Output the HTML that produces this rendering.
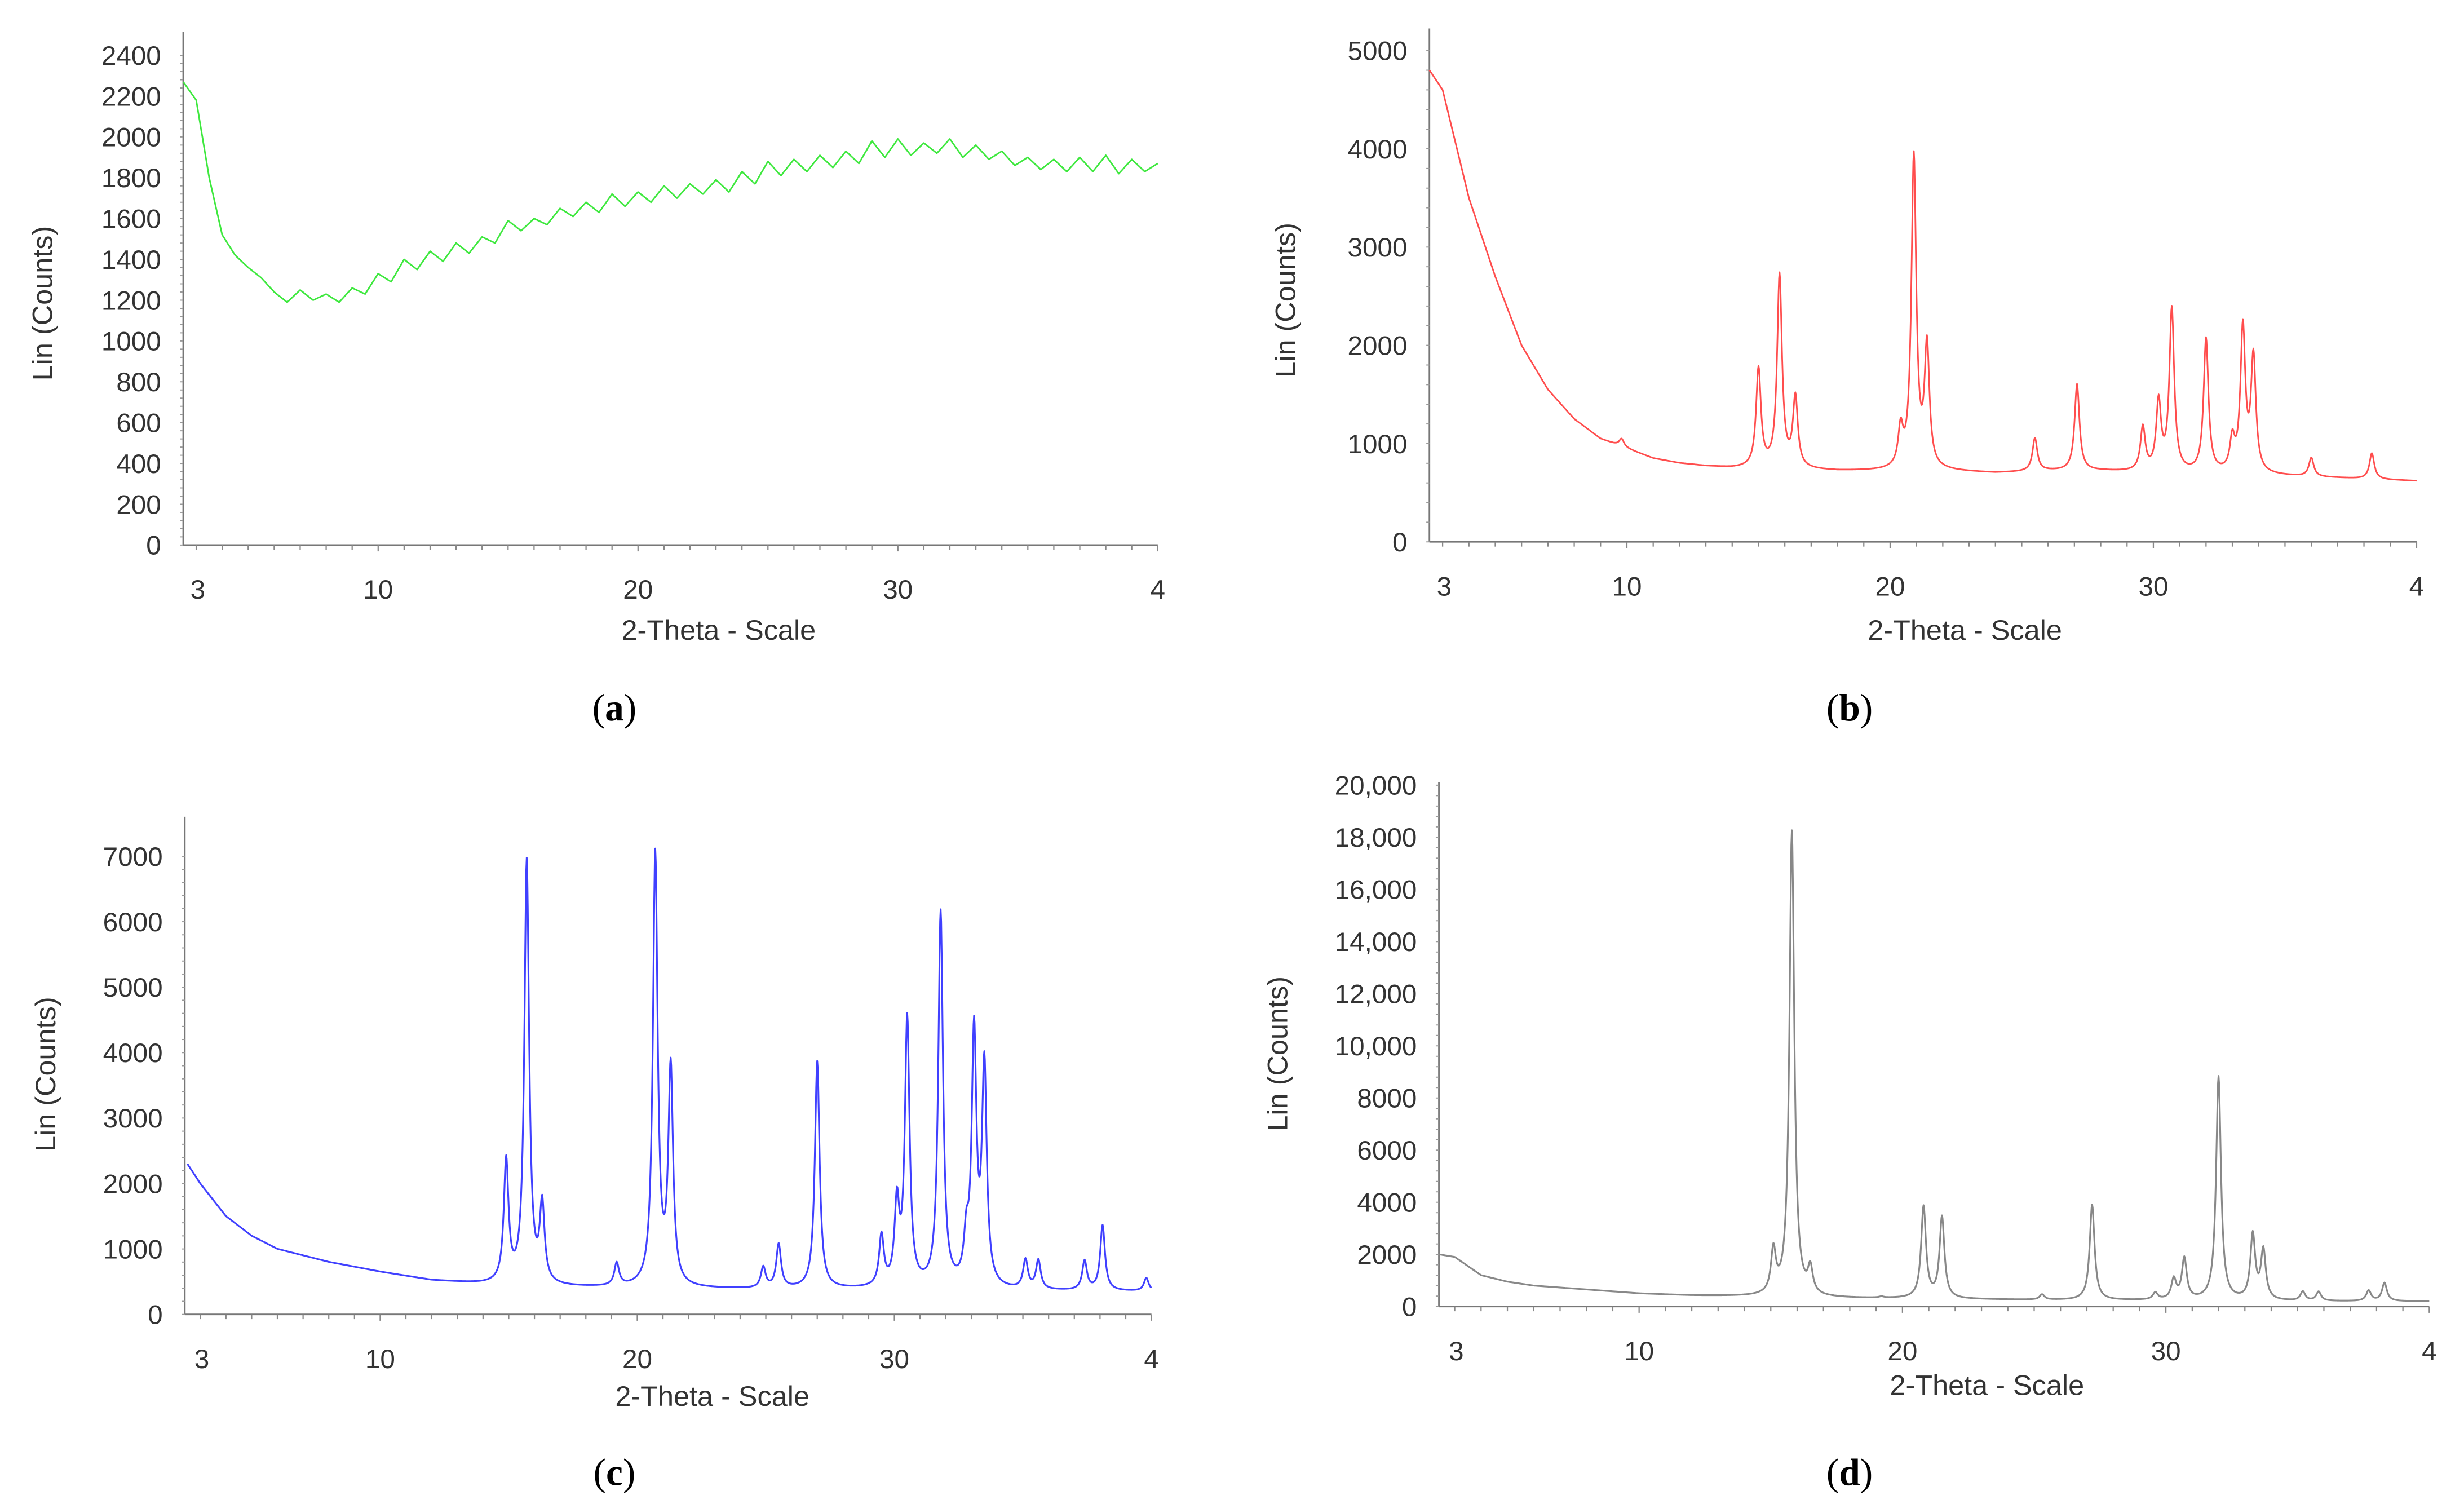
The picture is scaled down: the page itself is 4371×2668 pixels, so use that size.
<!DOCTYPE html>
<html><head><meta charset="utf-8"><style>
html,body{margin:0;padding:0;background:#fff}
svg{display:block}
text{font-family:"Liberation Sans",sans-serif;fill:#333}
.cap{font-family:"Liberation Serif",serif;fill:#000}
</style></head><body>
<svg id="fig" width="4371" height="2668" viewBox="0 0 1560 952" preserveAspectRatio="none" xmlns="http://www.w3.org/2000/svg"></svg>
<script>
// ---------- data ----------
const aStart = 2.5, aStep = 0.5;
const aValues = [2270,2180,1800,1520,1420,1360,1310,1240,1190,1250,1200,1230,1190,1260,1230,1330,1290,1400,1350,1440,1390,1480,1430,1510,1480,1590,1540,1600,1570,1650,1610,1680,1630,1720,1660,1730,1680,1760,1700,1770,1720,1790,1730,1830,1770,1880,1810,1890,1830,1910,1850,1930,1870,1980,1900,1990,1910,1970,1920,1990,1900,1960,1890,1930,1860,1900,1840,1890,1830,1900,1830,1910,1820,1890,1830,1870];

const bBaseX = [2.5,3,4,5,6,7,8,9,10,11,12,13,14,16,18,20,22,24,26,28,30,32,34,36,38,40];
const bBaseY = [4800,4600,3500,2700,2000,1550,1250,1050,950,850,800,770,750,740,720,720,720,700,720,720,700,690,680,660,640,620];
const bPeakPos = [9.8,15.0,15.8,16.4,20.4,20.9,21.4,25.5,27.1,29.6,30.2,30.7,32.0,33.0,33.4,33.8,36.0,38.3];
const bPeakVal = [1050,1750,2700,1450,1100,3900,1950,1050,1600,1150,1400,2350,2050,1000,2150,1850,850,900];

const cBaseX = [2.5,3,4,5,6,8,10,12,14,16,20,25,30,35,40];
const cBaseY = [2300,2000,1500,1200,1000,800,650,520,460,420,400,380,380,360,350];
const cPeakPos = [14.9,15.7,16.3,19.2,20.7,21.3,24.9,25.5,27.0,29.5,30.1,30.5,31.8,32.8,33.1,33.5,35.1,35.6,37.4,38.1,39.8];
const cPeakVal = [2300,6900,1600,750,7000,3700,700,1050,3850,1150,1600,4450,6100,1000,4200,3700,800,800,800,1350,550];

const dBaseX = [2.4,3,4,5,6,8,10,12,14,16,20,25,30,35,40];
const dBaseY = [2000,1900,1200,950,800,650,500,420,380,330,300,250,230,200,200];
const dPeakPos = [15.1,15.8,16.5,19.2,20.8,21.5,25.3,27.2,29.6,30.3,30.7,32.0,33.3,33.7,35.2,35.8,37.7,38.3];
const dPeakVal = [2000,18200,1300,350,3800,3400,450,3900,500,1000,1800,8800,2700,2100,550,550,600,900];

const xTickVals = [3,10,20,30,40];
const xTickText = ["3","10","20","30","4"];
const aYTicks = [0,200,400,600,800,1000,1200,1400,1600,1800,2000,2200,2400];
const bYTicks = [0,1000,2000,3000,4000,5000];
const cYTicks = [0,1000,2000,3000,4000,5000,6000,7000];
const dYTicks = [0,2000,4000,6000,8000,10000,12000,14000,16000,18000,20000];
const dYText = ["0","2000","4000","6000","8000","10,000","12,000","14,000","16,000","18,000","20,000"];

// ---------- drawing ----------
const NS = "http://www.w3.org/2000/svg";
const svg = document.getElementById('fig');
function mk(tag, attrs, parent){const e=document.createElementNS(NS,tag);for(const k in attrs)e.setAttribute(k,attrs[k]);(parent||svg).appendChild(e);return e;}
function interp(xs, ys, x){if(x<=xs[0])return ys[0];for(let i=1;i<xs.length;i++){if(x<=xs[i]){const t=(x-xs[i-1])/(xs[i]-xs[i-1]);return ys[i-1]+t*(ys[i]-ys[i-1]);}}return ys[ys.length-1];}
function curve(bx, by, pp, pv, x0, x1){
  const pts=[];const w=0.11;
  for(let x=x0;x<=x1+1e-9;x+=0.02){
    let y=interp(bx,by,x);
    for(let i=0;i<pp.length;i++){const amp=pv[i]-interp(bx,by,pp[i]);const d=(x-pp[i])/w;y+=amp/(1+d*d);}
    pts.push([x,y]);
  }
  return pts;
}

function panel(cfg){
  const g = mk('g',{});
  
  
  const sx = v => cfg.left + (v-cfg.xmin)/(cfg.xmax-cfg.xmin)*(cfg.right-cfg.left);
  const sy = v => cfg.bottom - v/cfg.ymax*(cfg.bottom-cfg.ytop);
  const ya = mk('line',{x1:cfg.left,y1:cfg.bottom,x2:cfg.left,y2:cfg.axTop,stroke:'#777','stroke-width':1},g);
  
  
  const xa = mk('line',{x1:cfg.left,y1:cfg.bottom,x2:cfg.right,y2:cfg.bottom,stroke:'#777','stroke-width':1},g);
  
  
  for(let v=Math.ceil(cfg.xmin);v<=cfg.xmax;v++){
    const x=sx(v);mk('line',{x1:x,y1:cfg.bottom,x2:x,y2:cfg.bottom+(v%10===0?4:3),stroke:'#888','stroke-width':0.8},g);
  }
  const step = cfg.yt[1]-cfg.yt[0];
  for(let v=0;v<=cfg.ymax;v+=step/5){
    const y=sy(v);mk('line',{x1:cfg.left-2,y1:y,x2:cfg.left,y2:y,stroke:'#999','stroke-width':0.7},g);
  }
  cfg.yt.forEach((v,i)=>{
    const t=mk('text',{x:cfg.left-14,y:sy(v)+6,'text-anchor':'end','font-size':17},g);
    t.textContent = cfg.ytText ? cfg.ytText[i] : String(v);
    
    
  });
  xTickVals.forEach((v,i)=>{
    const t=mk('text',{x:sx(v)+(i===0?1:0),y:cfg.bottom+34,'text-anchor':'middle','font-size':17},g);
    t.textContent = xTickText[i];
    
    
  });
  const xl=mk('text',{x:cfg.xlx,y:cfg.xly,'text-anchor':'middle','font-size':18},g);
  xl.textContent='2-Theta - Scale';
  
  
  const yl=mk('text',{x:0,y:0,'text-anchor':'middle','font-size':18,transform:`translate(${cfg.ylx},${cfg.yly}) rotate(-90)`},g);
  yl.textContent='Lin (Counts)';
  
  
  const cap=mk('text',{x:cfg.capx,y:cfg.capy,'text-anchor':'middle','font-size':24,class:'cap'},g);
  cap.innerHTML='(<tspan font-weight="bold">'+cfg.letter+'</tspan>)';
  
  
  const d = cfg.pts.map((p,i)=>(i?'L':'M')+sx(p[0]).toFixed(2)+','+sy(p[1]).toFixed(2)).join('');
  const path=mk('path',{d:d,fill:'none',stroke:cfg.color,'stroke-width':cfg.sw||1,'stroke-linejoin':'round'},g);
  
  
}

const aPts = aValues.map((v,i)=>[aStart+i*aStep, v]);
panel({name:'panel-a',letter:'a',left:116,right:733,axTop:20,bottom:345,ytop:35,ymax:2400,xmin:2.5,xmax:40,yt:aYTicks,xlx:455,xly:405,ylx:33,yly:192,capx:389,capy:456,color:'#3ee83e',pts:aPts,sw:1});
panel({name:'panel-b',letter:'b',left:905,right:1530,axTop:18,bottom:343,ytop:32,ymax:5000,xmin:2.5,xmax:40,yt:bYTicks,xlx:1244,xly:405,ylx:820,yly:190,capx:1171,capy:456,color:'#ff4d4d',pts:curve(bBaseX,bBaseY,bPeakPos,bPeakVal,2.5,40),sw:1});
panel({name:'panel-c',letter:'c',left:117,right:729,axTop:517,bottom:832,ytop:542,ymax:7000,xmin:2.4,xmax:40,yt:cYTicks,xlx:451,xly:890,ylx:35,yly:680,capx:389,capy:940,color:'#4040ff',pts:curve(cBaseX,cBaseY,cPeakPos,cPeakVal,2.5,40),sw:1.1});
panel({name:'panel-d',letter:'d',left:911,right:1538,axTop:495,bottom:827,ytop:497,ymax:20000,xmin:2.4,xmax:40,yt:dYTicks,ytText:dYText,xlx:1258,xly:883,ylx:815,yly:667,capx:1171,capy:940,color:'#888888',pts:curve(dBaseX,dBaseY,dPeakPos,dPeakVal,2.4,40),sw:1.1});
</script>
</body></html>
